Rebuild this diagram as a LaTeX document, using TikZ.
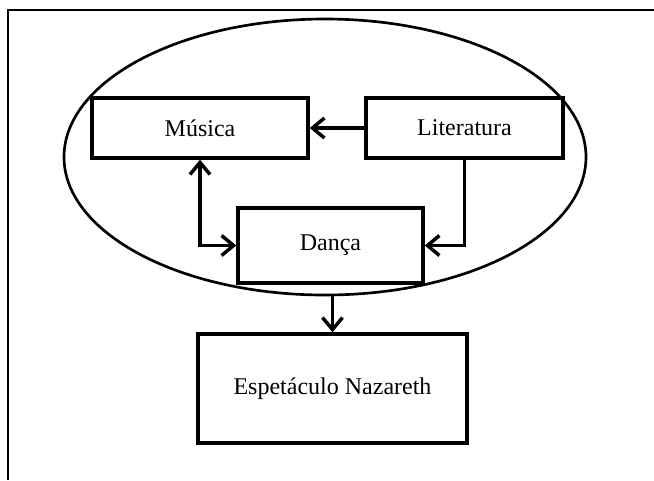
\documentclass[tikz,border=0pt]{standalone}
\usepackage{fontspec}
\setmainfont{Liberation Serif}
\usetikzlibrary{shapes.geometric}
\usetikzlibrary{arrows.meta}

\tikzset{
	caixa/.style={draw, line width=2.6pt, inner sep=0pt, align=center,
		font=\fontsize{18}{22}\selectfont},
	seta/.style={line width=2.6pt, -{Straight Barb[length=9pt, width=15pt]}},
	setadupla/.style={line width=2.6pt, {Straight Barb[length=9pt, width=15pt]}-{Straight Barb[length=9pt, width=15pt]}}
}

\begin{document}
\begin{tikzpicture}[x=0.75pt, y=-0.75pt]

		\useasboundingbox (0,0) rectangle (654,480);

		% moldura
		\draw[line width=1.8pt] (8,480) -- (8,10) -- (654,10);

		% elipse que agrupa as artes
		\node[draw, ellipse, line width=2pt, inner sep=0pt,
			minimum width=391.5pt, minimum height=207pt] (grupo) at (325,157) {};

		% caixas
		\node[caixa, minimum width=162pt, minimum height=45pt] (musica) at (200,128) {Música};
		\node[caixa, minimum width=147.75pt, minimum height=45pt] (literatura) at (464.5,128) {Literatura};
		\node[caixa, minimum width=138.75pt, minimum height=56.25pt] (danca) at (330.5,245.5) {Dança};
		\node[caixa, minimum width=201.75pt, minimum height=81.75pt] (espetaculo) at (332.5,388.5) {Espetáculo Nazareth};

		% ligacoes
		\draw[seta] (literatura.west) -- (musica.east);
		\draw[setadupla] (musica.south) |- (danca.west);
		\draw[seta] (literatura.south) |- (danca.east);
		\draw[seta] (espetaculo.north |- grupo.south) -- (espetaculo.north);

	\end{tikzpicture}
\end{document}
